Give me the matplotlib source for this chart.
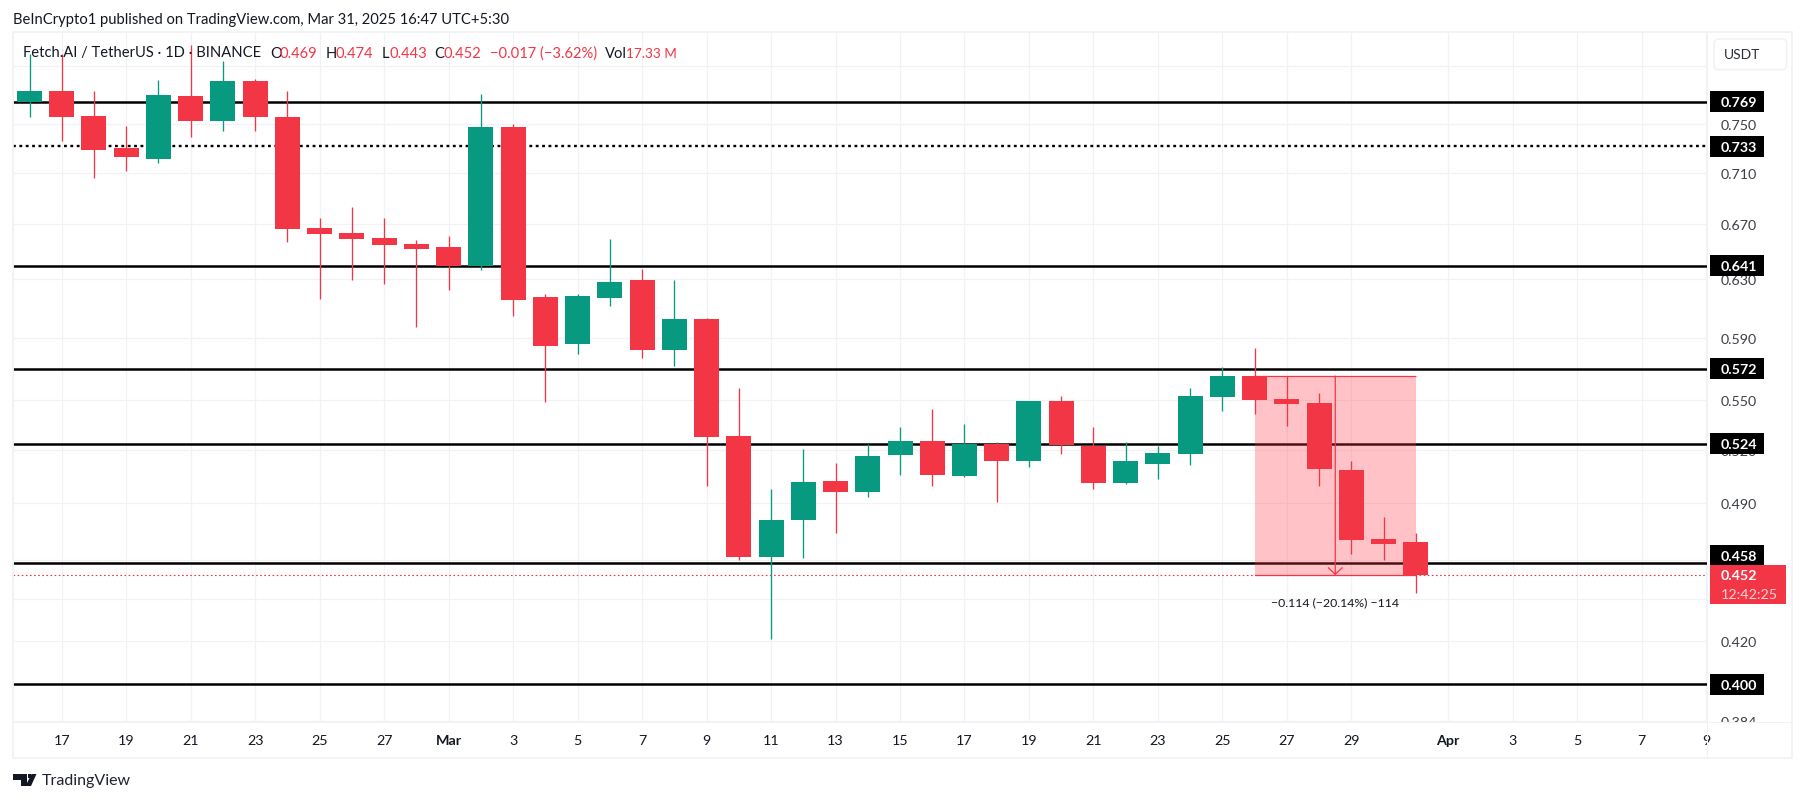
import matplotlib
matplotlib.use('Agg')
import matplotlib.pyplot as plt
from matplotlib.patches import Rectangle, FancyBboxPatch, Polygon
from matplotlib.transforms import Affine2D

W, H = 1804, 803
FONT = 'Lato'
GREEN = '#089981'
RED = '#f23645'
GRID = '#f1f2f5'
TEXT = '#131722'

# daily candles, Feb 16 to Mar 31
opens = [.7687, .7783, .7568, .7301, .7211, .7739, .7525, .7871, .7559, .6674, .6636,
         .6599, .6555, .6533, .6395, .7475, .6176, .5859, .6169, .6295, .582, .6026,
         .5284, .4613, .4809, .5024, .4962, .5173, .5255, .5052, .5237, .5138, .5496,
         .5225, .5013, .5121, .5179, .552, .5652, .5508, .5484, .5086, .4707, .469]
highs = [.8113, .811, .778, .7483, .788, .8195, .8049, .7888, .778, .6749, .6833,
         .6749, .6584, .6614, .7757, .75, .6197, .6197, .6592, .6374, .6295, .6033,
         .5577, .4979, .5208, .5126, .5237, .5338, .5447, .5356, .5249, .5496, .5527,
         .5338, .5249, .5225, .5577, .571, .5833, .5652, .5546, .5138, .4825, .474]
lows = [.7559, .7358, .7059, .7115, .7179, .7391, .7441, .7441, .657, .6163, .6295,
        .6267, .5972, .6225, .6366, .6046, .549, .5794, .6114, .5768, .5716, .4996,
        .4598, .4208, .4608, .4739, .4935, .5058, .4996, .5047, .4907, .5104, .5179,
        .4979, .5007, .5035, .5115, .5434, .5416, .5344, .4996, .4629, .4598, .443]
closes = [.7783, .7559, .7284, .7227, .7748, .7525, .7871, .7559, .6666, .6629, .6592,
          .6548, .6518, .6395, .7475, .6156, .5846, .6183, .6281, .582, .6026, .5278,
          .4613, .4809, .5018, .4962, .5167, .5255, .5058, .5237, .5138, .5496, .5231,
          .5013, .5138, .5184, .5527, .5652, .5502, .5477, .5092, .4703, .4681, .452]

# the drawn lines sit a little off the price their tags show
solid_levels = [0.769, 0.6396, 0.5699, 0.524, 0.458, 0.400]
solid_tags = ['0.769', '0.641', '0.572', '0.524', '0.458', '0.400']
dotted_level = 0.7315
dotted_tag = '0.733'
last_price = 0.452
measure_top = 0.5652
measure_start, measure_end, measure_arrow = 38, 43, 40.5

price_ticks = [.80, .75, .71, .67, .63, .59, .55, .52, .49, .46, .44, .42, .40, .384]
price_labels = ['', '0.750', '0.710', '0.670', '0.630', '0.590', '0.550', '0.520', '0.490',
                '0.460', '', '0.420', '0.400', '0.384']
time_ticks = [1, 3, 5, 7, 9, 11, 13, 15, 17, 19, 21, 23, 25, 27, 29, 31, 33, 35, 37, 39, 41,
              44, 46, 48, 50, 52]
time_labels = ['17', '19', '21', '23', '25', '27', 'Mar', '3', '5', '7', '9', '11', '13', '15',
               '17', '19', '21', '23', '25', '27', '29', 'Apr', '3', '5', '7', '9']

fig = plt.figure(figsize=(W / 100, H / 100), dpi=100, facecolor='white')
px = Affine2D().scale(1 / W, -1 / H).translate(0, 1) + fig.transFigure


def label(x, y, s, color=TEXT, size=10, ha='left', weight='normal', font=FONT):
    fig.text(x, y, s, color=color, fontsize=size, ha=ha, va='center', fontweight=weight,
             family=font, transform=px)


ax = fig.add_axes([13 / W, 1 - 722.7 / H, (1707 - 13) / W, (722.7 - 34) / H])
ax.set_yscale('log')
ax.set_xlim(-0.512, 52.03)
ax.set_ylim(0.3835, 0.8306)
for s in ax.spines.values():
    s.set_visible(False)

ax.set_axisbelow(True)
ax.grid(True, color=GRID, lw=0.9)
ax.minorticks_off()
ax.yaxis.tick_right()
ax.set_yticks(price_ticks)
ax.set_yticklabels(price_labels)
ax.set_xticks(time_ticks)
ax.set_xticklabels(time_labels)
ax.tick_params(axis='y', length=0, pad=9.5, labelsize=10.3, labelcolor='#3c4048')
ax.tick_params(axis='x', length=0, pad=9, labelsize=10.3, labelcolor=TEXT)
for t in ax.get_xticklabels() + ax.get_yticklabels():
    t.set_family(FONT)
for t in ax.get_xticklabels():
    if t.get_text() in ('Mar', 'Apr'):
        t.set_fontweight('bold')

# levels
ax.hlines(solid_levels, -0.512, 52.03, color='black', lw=1.8, zorder=2)
ax.hlines(dotted_level, -0.512, 52.03, color='black', lw=1.7, linestyle=(0, (1.2, 1.5)), zorder=2)
ax.hlines(last_price, -0.512, 52.03, color=RED, lw=0.8, linestyle=(0, (1.5, 2.2)), zorder=5)

# measure tool
ax.axhspan(last_price, measure_top, xmin=(measure_start + 0.512) / 52.542,
           xmax=(measure_end + 0.512) / 52.542, facecolor='#ff3b48', alpha=0.3, lw=0, zorder=3)
ax.hlines([last_price, measure_top], measure_start, measure_end, color=RED, lw=0.9, zorder=3)
ax.annotate('', xy=(measure_arrow, last_price), xytext=(measure_arrow, measure_top),
            arrowprops=dict(arrowstyle='->,head_length=0.48,head_width=0.5', color=RED, lw=0.9,
                            shrinkA=0, shrinkB=0), zorder=6)

# candles
x = list(range(len(opens)))
colors = [GREEN if c >= o else RED for o, c in zip(opens, closes)]
ax.vlines(x, lows, highs, color=colors, lw=0.95, zorder=4)
ax.bar(x, [abs(c - o) for o, c in zip(opens, closes)],
       bottom=[min(o, c) for o, c in zip(opens, closes)],
       width=0.776, color=colors, lw=0, zorder=4.5)

ax.figure.canvas.draw()

# chart frame and axis separators
fig.add_artist(Rectangle((12.5, 33), 1779.5, 726, transform=px, fill=False, ec=GRID, lw=1.3))
fig.add_artist(Rectangle((1707, 34), 0.8, 725, transform=px, fc=GRID, ec='none'))
fig.add_artist(Rectangle((13, 722.7), 1778, 0.8, transform=px, fc=GRID, ec='none'))
# the lowest price label gets cut by the pane
fig.add_artist(Rectangle((1715, 723.5), 75, 34, transform=px, fc='white', ec='none'))

# price labels
for level, tag in zip(solid_levels + [dotted_level], solid_tags + [dotted_tag]):
    yy = H - ax.transData.transform((0, level))[1]
    if tag == '0.458':
        yy -= 8.3
    fig.add_artist(Rectangle((1710, yy - 10.5), 54, 21, transform=px, fc='black', ec='none'))
    label(1720.5, yy + 0.5, tag, color='white', size=10.3, weight='bold')

ylast = H - ax.transData.transform((0, last_price))[1]
fig.add_artist(Rectangle((1710, ylast - 10.3), 76, 38.7, transform=px, fc=RED, ec='none'))
label(1720.5, ylast, '%.3f' % last_price, color='white', size=10.3, weight='bold')
label(1721, ylast + 18.4, '12:42:25', color='#ffd3d7', size=10.3)

# USDT button
fig.add_artist(FancyBboxPatch((1714, 40), 72.7, 30.7, boxstyle='round,pad=0,rounding_size=5',
                              transform=px, fc='white', ec=GRID, lw=1.2))
label(1742, 55, 'USDT', size=10, ha='center', color='#2a2e39')

# header and legend
label(13, 20, 'BeInCrypto1 published on TradingView.com, Mar 31, 2025 16:47 UTC+5:30', size=10.6)
label(23, 53.5, 'Fetch.AI / TetherUS · 1D · BINANCE', size=10.6)
legend_keys = [(270, 'O', 280, '0.469'), (325.5, 'H', 335, '0.474'), (381.5, 'L', 389, '0.443'),
               (434, 'C', 444, '0.452')]
for kx, k, vx, v in legend_keys:
    label(kx, 53.5, k, size=10.6)
    label(vx, 53.5, v, size=10.6, color=RED)
label(490, 53.5, '−0.017 (−3.62%)', size=10.6, color=RED)
label(605, 53.5, 'Vol', size=10.6)
label(626, 53.5, '17.33 M', size=9.8, color=RED)

label(1335, 602.7, '−0.114 (−20.14%) −114', size=8.8, ha='center')

# TradingView logo
fig.add_artist(Polygon([(13, 775), (27, 775), (27, 787), (20.5, 787), (20.5, 780.5), (13, 780.5)],
                       transform=px, fc=TEXT, ec='none'))
fig.add_artist(Polygon([(27.5, 775), (31, 775), (31, 779), (27.5, 779)], transform=px, fc=TEXT, ec='none'))
fig.add_artist(Polygon([(31.5, 775), (36.5, 775), (31, 787), (25.5, 787)], transform=px, fc=TEXT, ec='none'))
label(42, 781.5, 'TradingView', size=11.5, color='#1e222d')

fig.savefig('out.png', dpi=100, facecolor='white')
